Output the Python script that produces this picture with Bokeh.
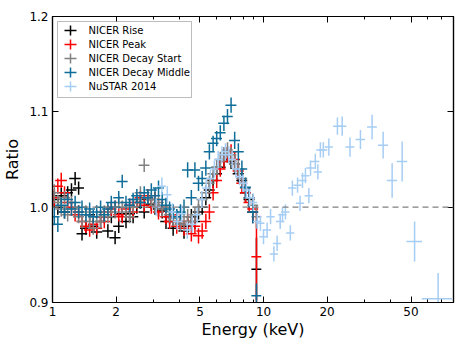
from bokeh.plotting import figure
from bokeh.models import (Range1d, FixedTicker, LinearAxis, LogAxis, Span, BoxAnnotation, Label,
                          ColumnDataSource, PrintfTickFormatter)
from bokeh.embed import file_html
from bokeh.resources import INLINE

# ---------------- data ----------------
nicer_energy = [1.02, 1.06, 1.10, 1.14, 1.18, 1.23, 1.28, 1.33, 1.38, 1.44,
                1.50, 1.56, 1.62, 1.69, 1.76, 1.83, 1.90, 1.98, 2.06, 2.14,
                2.23, 2.32, 2.41, 2.51, 2.61, 2.72, 2.83, 2.94, 3.06, 3.18,
                3.31, 3.45, 3.59, 3.73, 3.88, 4.04, 4.20, 4.37, 4.55, 4.73,
                4.92, 5.12, 5.33, 5.54, 5.77, 6.00, 6.24, 6.49, 6.75, 7.02,
                7.30, 7.60, 7.90, 8.22, 8.55, 8.90, 9.26]
nicer_energy_err = [0.06, 0.06, 0.07, 0.07, 0.07, 0.07, 0.08, 0.08, 0.08, 0.09,
                    0.09, 0.09, 0.10, 0.10, 0.11, 0.11, 0.11, 0.12, 0.12, 0.13,
                    0.13, 0.14, 0.14, 0.15, 0.16, 0.16, 0.17, 0.18, 0.18, 0.19,
                    0.20, 0.21, 0.22, 0.22, 0.23, 0.24, 0.25, 0.26, 0.27, 0.28,
                    0.30, 0.31, 0.32, 0.33, 0.35, 0.36, 0.37, 0.39, 0.40, 0.42,
                    0.44, 0.46, 0.47, 0.49, 0.51, 0.53, 0.50]
nicer_ratio_err = [0.009, 0.008, 0.008, 0.007, 0.007, 0.007, 0.007, 0.007, 0.007, 0.007,
                   0.007, 0.007, 0.007, 0.007, 0.007, 0.007, 0.007, 0.007, 0.007, 0.007,
                   0.007, 0.007, 0.007, 0.007, 0.007, 0.007, 0.007, 0.007, 0.008, 0.008,
                   0.008, 0.008, 0.008, 0.008, 0.008, 0.008, 0.008, 0.008, 0.008, 0.008,
                   0.008, 0.008, 0.008, 0.008, 0.008, 0.008, 0.008, 0.008, 0.008, 0.008,
                   0.009, 0.009, 0.009, 0.010, 0.010, 0.012]

rise_ratio = [1.008, 1.000, 1.012, 0.995, 1.015, 1.018, 1.030, 1.020, 0.972, 0.978,
              0.992, 0.980, 0.974, 0.985, 0.990, 0.975, 0.990, 0.968, 0.980, 0.993,
              0.985, 0.993, 0.990, 1.000, 1.005, 0.995, 1.008, 1.003, 1.000, 0.998,
              0.996, 0.985, 0.990, 0.978, 0.985, 0.982, 0.975, 0.980, 0.990, 0.985,
              0.995, 1.000, 1.010, 1.018, 1.028, 1.035, 1.042, 1.050, 1.055, 1.048,
              1.045, 1.035, 1.028, 1.015, 1.008, 0.995, 0.935]
rise_ratio_err = nicer_ratio_err + [0.033]

peak_ratio = [1.010, 1.022, 1.028, 1.015, 1.005, 1.000, 0.992, 0.995, 0.985, 0.980,
              0.976, 0.982, 0.978, 0.990, 0.985, 0.995, 0.998, 1.000, 0.992, 0.990,
              0.998, 1.002, 0.995, 1.005, 1.010, 1.002, 1.012, 1.000, 1.008, 0.995,
              1.000, 0.990, 0.985, 0.992, 0.980, 0.985, 0.978, 0.985, 0.972, 0.980,
              0.970, 0.975, 0.985, 0.995, 1.015, 1.028, 1.040, 1.048, 1.055, 1.058,
              1.050, 1.038, 1.025, 1.015, 1.005, 0.998, 0.948]
peak_ratio_err = nicer_ratio_err + [0.052]

start_ratio = [1.015, 1.005, 0.998, 1.010, 0.992, 1.005, 0.998, 0.990, 0.985, 0.995,
               0.985, 0.978, 0.990, 0.985, 0.995, 0.990, 1.000, 0.995, 1.005, 1.000,
               0.995, 0.990, 1.000, 1.008, 1.015, 1.044, 1.010, 1.008, 1.002, 1.005,
               0.998, 1.000, 0.992, 0.988, 0.990, 0.982, 0.985, 0.990, 0.985, 0.992,
               1.000, 1.008, 1.015, 1.025, 1.035, 1.042, 1.050, 1.055, 1.060, 1.055,
               1.045, 1.040, 1.030, 1.020, 1.010, 1.002, 0.990]
start_ratio_err = nicer_ratio_err + [0.012]

middle_ratio = [0.990, 0.982, 1.002, 0.995, 1.008, 0.998, 1.005, 0.995, 1.000, 0.992,
                0.998, 0.990, 0.995, 1.000, 0.992, 0.998, 1.005, 1.000, 1.010, 1.027,
                1.005, 1.002, 1.008, 1.012, 1.005, 1.015, 1.010, 1.018, 1.012, 1.020,
                1.008, 1.002, 0.998, 0.995, 0.990, 0.995, 1.000, 1.039, 1.010, 1.039,
                1.025, 1.030, 1.041, 1.058, 1.067, 1.072, 1.078, 1.088, 1.095, 1.107,
                1.070, 1.058, 1.040, 1.021, 1.010, 0.995, 0.907]
middle_ratio_err = nicer_ratio_err + [0.013]

nustar_energy = [3.1, 3.3, 3.5, 3.7, 3.9, 4.1, 4.35, 4.6, 4.85,
                 5.1, 5.35, 5.6, 5.85, 6.1, 6.35, 6.6, 6.85, 7.1,
                 7.4, 7.7, 8.0, 8.3, 8.6, 8.95,
                 9.35, 9.67, 10.0, 10.4, 10.8, 11.2, 11.6, 12.0, 12.3, 12.7,
                 13.4, 13.7, 14.5, 14.9, 15.3, 15.8, 16.4, 16.7, 17.6, 18.1, 18.6, 19.2,
                 20.4, 22.4, 23.6, 25.7, 28.8, 32.7, 36.9, 40.7, 45.4, 52.0, 67.2]
nustar_energy_err = [0.15, 0.15, 0.16, 0.17, 0.18, 0.19, 0.20, 0.21, 0.22,
                     0.23, 0.24, 0.25, 0.26, 0.27, 0.28, 0.29, 0.30, 0.32,
                     0.33, 0.34, 0.36, 0.37, 0.38, 0.40,
                     0.42, 0.43, 0.45, 0.47, 0.49, 0.50, 0.52, 0.54, 0.55, 0.57,
                     0.60, 0.62, 0.65, 0.67, 0.69, 0.71, 0.74, 0.75, 0.80, 0.82, 0.84, 0.87,
                     0.92, 1.05, 1.10, 1.25, 1.50, 1.75, 2.00, 2.30, 2.60, 4.40, 11.0]
nustar_ratio = [1.000, 1.022, 1.013, 0.995, 0.985, 0.993, 0.976, 0.982, 0.992,
                1.008, 1.020, 1.030, 1.040, 1.050, 1.055, 1.058, 1.055, 1.050,
                1.040, 1.032, 1.025, 1.018, 1.010, 1.005,
                0.985, 0.983, 0.969, 0.976, 0.990, 0.951, 0.962, 0.985, 0.992, 0.995,
                0.973, 1.020, 1.023, 1.004, 1.028, 1.033, 1.012, 1.041, 1.048, 1.037, 1.060, 1.060,
                1.063, 1.085, 1.085, 1.063, 1.071, 1.084, 1.065, 1.028, 1.048, 0.964, 0.904]
nustar_ratio_err = [0.009, 0.009, 0.009, 0.009, 0.009, 0.009, 0.009, 0.009, 0.009,
                    0.009, 0.009, 0.009, 0.009, 0.009, 0.009, 0.009, 0.009, 0.009,
                    0.009, 0.009, 0.009, 0.009, 0.009, 0.009,
                    0.008, 0.008, 0.008, 0.008, 0.008, 0.008, 0.008, 0.008, 0.008, 0.008,
                    0.008, 0.008, 0.008, 0.008, 0.008, 0.008, 0.008, 0.008, 0.008, 0.008, 0.008, 0.008,
                    0.009, 0.009, 0.010, 0.010, 0.010, 0.013, 0.014, 0.018, 0.021, 0.021, 0.027]

series_labels = ["NICER Rise", "NICER Peak", "NICER Decay Start", "NICER Decay Middle", "NuSTAR 2014"]
series_colors = ["#000000", "#ff0000", "#808080", "#0f6e99", "#a6cdf4"]

x_major_ticks = [1, 2, 5, 10, 20, 50]
x_minor_ticks = [3, 4, 6, 7, 8, 9, 30, 40, 60, 70]
y_ticks = [0.9, 1.0, 1.1, 1.2]

series_data = [
    (nicer_energy, nicer_energy_err, rise_ratio, rise_ratio_err),
    (nicer_energy, nicer_energy_err, peak_ratio, peak_ratio_err),
    (nicer_energy, nicer_energy_err, start_ratio, start_ratio_err),
    (nicer_energy, nicer_energy_err, middle_ratio, middle_ratio_err),
    (nustar_energy, nustar_energy_err, nustar_ratio, nustar_ratio_err),
]

# ---------------- figure ----------------
FONT = "DejaVu Sans"
p = figure(width=463, height=348, x_axis_type="log",
           x_range=Range1d(1, 79.5), y_range=Range1d(0.9, 1.2),
           output_backend="svg", toolbar_location=None,
           min_border_left=52, min_border_right=10, min_border_top=16, min_border_bottom=46)
p.grid.visible = False
p.outline_line_color = "black"
p.outline_line_width = 1.2
p.background_fill_color = "white"
p.border_fill_color = "white"

for color, (xe, dxe, ye, dye) in zip(series_colors, series_data):
    src = ColumnDataSource(dict(
        x=xe, y=ye,
        xl=[a - b for a, b in zip(xe, dxe)], xh=[a + b for a, b in zip(xe, dxe)],
        yl=[a - b for a, b in zip(ye, dye)], yh=[a + b for a, b in zip(ye, dye)],
    ))
    p.segment(x0="xl", y0="y", x1="xh", y1="y", source=src, line_color=color, line_width=1.5)
    p.segment(x0="x", y0="yl", x1="x", y1="yh", source=src, line_color=color, line_width=1.5)

# reference line at ratio = 1 (drawn above the data, as in the reference)
p.add_layout(Span(location=1.0, dimension="width", line_color="#808080",
                  line_dash="6 4", line_width=1.3))

# ---------------- legend (drawn in screen units inside the frame) ----------------
p.add_layout(BoxAnnotation(left=5, right=139, top=281, bottom=205,
                           left_units="screen", right_units="screen",
                           top_units="screen", bottom_units="screen",
                           fill_color="white", fill_alpha=1,
                           line_color="#222222", line_width=1, level="annotation"))
row0, pitch = 272, 14
for i, (label, color) in enumerate(zip(series_labels, series_colors)):
    cy = row0 - pitch * i
    p.add_layout(BoxAnnotation(left=12, right=24, bottom=cy - 0.75, top=cy + 0.75,
                               left_units="screen", right_units="screen",
                               top_units="screen", bottom_units="screen",
                               fill_color=color, fill_alpha=1, line_alpha=0))
    p.add_layout(BoxAnnotation(left=17.25, right=18.75, bottom=cy - 5, top=cy + 5,
                               left_units="screen", right_units="screen",
                               top_units="screen", bottom_units="screen",
                               fill_color=color, fill_alpha=1, line_alpha=0))
    p.add_layout(Label(x=36, y=cy, x_units="screen", y_units="screen", text=label,
                       text_baseline="middle", text_font=FONT, text_font_size="10px",
                       text_color="black"))

# ---------------- axes ----------------
def style_axis(ax, labels=True):
    ax.major_tick_in = 6
    ax.major_tick_out = 0
    ax.minor_tick_in = 3
    ax.minor_tick_out = 0
    ax.axis_line_color = "black"
    ax.axis_line_width = 1.2
    ax.major_tick_line_color = "black"
    ax.minor_tick_line_color = "black"
    ax.major_tick_line_width = 1
    ax.minor_tick_line_width = 1
    if labels:
        ax.major_label_text_font = FONT
        ax.major_label_text_font_size = "12px"
        ax.major_label_text_color = "black"
        ax.major_label_standoff = 4
        ax.axis_label_text_font = FONT
        ax.axis_label_text_font_size = "16px"
        ax.axis_label_text_font_style = "normal"
        ax.axis_label_text_color = "black"
    else:
        ax.major_label_text_font_size = "10px"
        ax.major_label_standoff = 0

xa = p.xaxis[0]
xa.ticker = FixedTicker(ticks=x_major_ticks, minor_ticks=x_minor_ticks)
xa.formatter = PrintfTickFormatter(format="%d")
xa.axis_label = "Energy (keV)"
xa.axis_label_standoff = 1
style_axis(xa)

ya = p.yaxis[0]
ya.ticker = FixedTicker(ticks=y_ticks, minor_ticks=[])
ya.formatter = PrintfTickFormatter(format="%.1f")
ya.axis_label = "Ratio"
ya.axis_label_standoff = 4
style_axis(ya)

top = LogAxis(ticker=FixedTicker(ticks=x_major_ticks, minor_ticks=x_minor_ticks),
              major_label_overrides={t: "" for t in x_major_ticks})
style_axis(top, labels=False)
p.add_layout(top, "above")
right = LinearAxis(ticker=FixedTicker(ticks=y_ticks, minor_ticks=[]),
                   major_label_overrides={t: "" for t in y_ticks})
style_axis(right, labels=False)
p.add_layout(right, "right")

open("out.html", "w").write(file_html(p, INLINE))
